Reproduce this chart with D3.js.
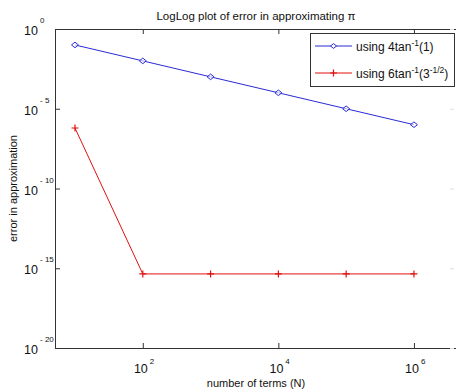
<!DOCTYPE html>
<html>
<head>
<meta charset="utf-8">
<script src="https://cdn.jsdelivr.net/npm/d3@7"></script>
<style>
  html, body { margin: 0; padding: 0; background: #fff; }
  svg { display: block; font-family: "Liberation Sans", Arial, Helvetica, sans-serif; }
</style>
</head>
<body>
<svg id="chart" width="456" height="392"></svg>
<script>
// ---- data ----
const terms = [10, 100, 1000, 10000, 100000, 1000000];
const errLeibniz = [0.0998, 0.01, 0.001, 1e-4, 1e-5, 1e-6];
const errMachin = [6.2e-7, 4.4e-16, 4.4e-16, 4.4e-16, 4.4e-16, 4.4e-16];
const xTickExps = [2, 4, 6];
const yTickExps = [0, -5, -10, -15, -20];

const svg = d3.select("#chart");
const L = 55, R = 457, T = 29, B = 348;

const x = d3.scaleLog().domain([Math.pow(10, 0.705), Math.pow(10, 6.635)]).range([L, R]);
const y = d3.scaleLog().domain([1e-20, 1]).range([B, T]);

const axisColor = "#333";

svg.append("rect").attr("x", L).attr("y", T).attr("width", R - L).attr("height", B - T)
  .attr("fill", "#fff").attr("stroke", "none");

const xb = svg.append("g").attr("transform", `translate(0,${B})`)
  .call(d3.axisBottom(x).tickValues(xTickExps.map(e => Math.pow(10, e))).tickSizeInner(-5).tickSizeOuter(0).tickFormat(""));
const xt = svg.append("g").attr("transform", `translate(0,${T})`)
  .call(d3.axisTop(x).tickValues(xTickExps.map(e => Math.pow(10, e))).tickSizeInner(-5).tickSizeOuter(0).tickFormat(""));
const yl = svg.append("g").attr("transform", `translate(${L},0)`)
  .call(d3.axisLeft(y).tickValues(yTickExps.map(e => Math.pow(10, e))).tickSizeInner(-5).tickSizeOuter(0).tickFormat(""));
const yr = svg.append("g").attr("transform", `translate(${R - 3},0)`)
  .call(d3.axisRight(y).tickValues(yTickExps.map(e => Math.pow(10, e))).tickSizeInner(-4).tickSizeOuter(0).tickFormat(""));
[xb, xt, yl].forEach(g => {
  g.selectAll("path.domain").attr("stroke", axisColor).attr("stroke-width", 1);
  g.selectAll(".tick line").attr("stroke", axisColor);
});
yr.selectAll("path.domain").remove();
yr.selectAll(".tick line").attr("stroke", "#ddd");

// x tick labels
xTickExps.forEach(e => {
  const px = x(Math.pow(10, e));
  svg.append("text").attr("x", px + 5).attr("y", B + 25).attr("text-anchor", "end")
    .attr("font-size", 12.5).attr("fill", "#111").text("10");
  svg.append("text").attr("x", px + 7).attr("y", B + 16).attr("font-size", 8).attr("fill", "#111").text(String(e));
});
// y tick labels
yTickExps.forEach(e => {
  const py = y(Math.pow(10, e));
  svg.append("text").attr("x", 38).attr("y", py + 6).attr("text-anchor", "end")
    .attr("font-size", 12.5).attr("fill", "#111").text("10");
  svg.append("text").attr("x", 40).attr("y", py - 6).attr("font-size", 8).attr("fill", "#111")
    .text(e === 0 ? "0" : "- " + String(-e));
});

// title & labels
svg.append("text").attr("x", (L + R) / 2).attr("y", 20).attr("text-anchor", "middle")
  .attr("font-size", 11.5).attr("fill", "#111").text("LogLog plot of error in approximating π");
svg.append("text").attr("x", (L + R) / 2).attr("y", 387).attr("text-anchor", "middle")
  .attr("font-size", 11).attr("fill", "#111").text("number of terms (N)");
svg.append("text").attr("transform", `translate(17,${(T + B) / 2}) rotate(-90)`).attr("text-anchor", "middle")
  .attr("font-size", 11).attr("fill", "#111").text("error in approximation");

// series
const blue = "#2b2bd6", red = "#e01010";
const line = d3.line().x(d => x(d[0])).y(d => y(d[1]));
const dataA = terms.map((n, i) => [n, errLeibniz[i]]);
const dataB = terms.map((n, i) => [n, errMachin[i]]);

svg.append("path").datum(dataA).attr("d", line).attr("fill", "none").attr("stroke", blue).attr("stroke-width", 1);
svg.append("path").datum(dataB).attr("d", line).attr("fill", "none").attr("stroke", red).attr("stroke-width", 1);

const diamond = (cx, cy, r) => `M${cx - r},${cy}L${cx},${cy - r * 0.8}L${cx + r},${cy}L${cx},${cy + r * 0.8}Z`;
svg.selectAll("path.dA").data(dataA).enter().append("path").attr("class", "dA")
  .attr("d", d => diamond(x(d[0]), y(d[1]), 3.5)).attr("fill", "#fff").attr("fill-opacity", 0.6)
  .attr("stroke", blue).attr("stroke-width", 1);
svg.selectAll("path.pB").data(dataB).enter().append("path").attr("class", "pB")
  .attr("d", d => { const cx = x(d[0]), cy = y(d[1]); return `M${cx - 3.5},${cy}H${cx + 3.5}M${cx},${cy - 3.5}V${cy + 3.5}`; })
  .attr("stroke", red).attr("stroke-width", 1.2);

// legend
const lg = svg.append("g");
lg.append("rect").attr("x", 310.5).attr("y", 33.5).attr("width", 144).attr("height", 53)
  .attr("fill", "#fff").attr("stroke", axisColor).attr("stroke-width", 1);
const rows = [46, 73];
rows.forEach((ry, i) => {
  const col = i === 0 ? blue : red;
  lg.append("line").attr("x1", 315).attr("x2", 352).attr("y1", ry).attr("y2", ry).attr("stroke", col);
  if (i === 0) {
    lg.append("path").attr("d", diamond(333.5, ry, 3)).attr("fill", "#fff").attr("stroke", col);
  } else {
    lg.append("path").attr("d", `M330,${ry}H337M333.5,${ry - 3.5}V${ry + 3.5}`).attr("stroke", col).attr("stroke-width", 1.2);
  }
  const t = lg.append("text").attr("x", 356).attr("y", ry + 4.5).attr("font-size", 12).attr("fill", "#111");
  if (i === 0) {
    t.append("tspan").text("using 4tan");
    t.append("tspan").attr("dy", -5).attr("font-size", 8.5).text("-1");
    t.append("tspan").attr("dy", 5).text("(1)");
  } else {
    t.append("tspan").text("using 6tan");
    t.append("tspan").attr("dy", -5).attr("font-size", 8.5).text("-1");
    t.append("tspan").attr("dy", 5).text("(3");
    t.append("tspan").attr("dy", -5).attr("font-size", 8.5).text("-1/2");
    t.append("tspan").attr("dy", 5).text(")");
  }
});
</script>
</body>
</html>
